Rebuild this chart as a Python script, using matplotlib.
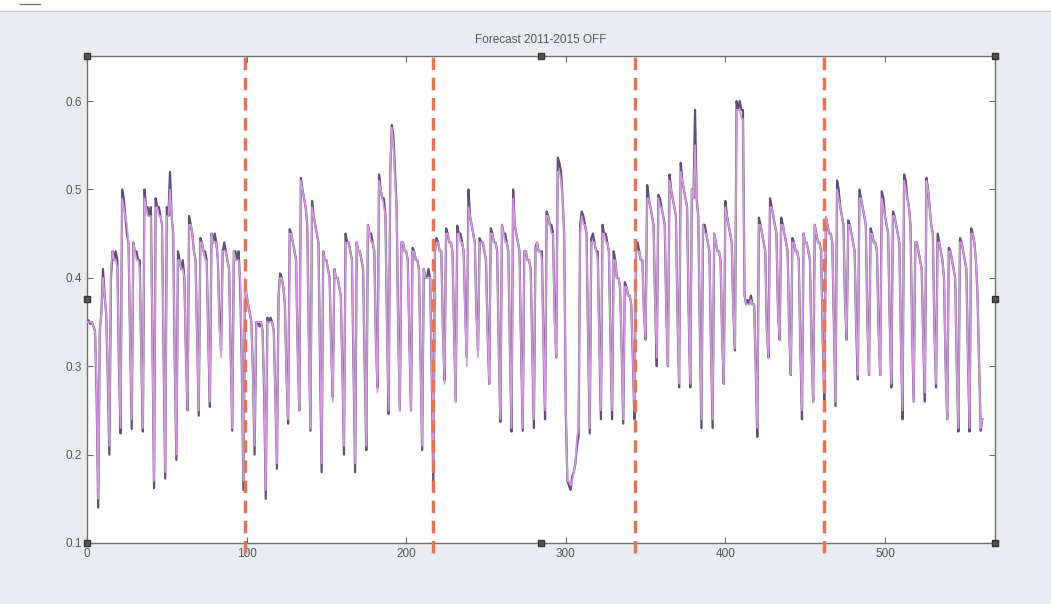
import matplotlib
matplotlib.use("Agg")
import matplotlib.pyplot as plt
import numpy as np
from matplotlib.lines import Line2D

plt.rcParams['font.family'] = ['Liberation Sans Narrow', 'Liberation Sans', 'DejaVu Sans']

title = "Forecast 2011-2015 OFF"

# daily values, one row per week: [Sun, Mon, Tue, Wed, Thu, Fri, Sat]
actual_weeks = [
    [0.35, 0.352, 0.348, 0.35, 0.345, 0.34, 0.27],
    [0.14, 0.34, 0.36, 0.41, 0.38, 0.36, 0.29],
    [0.20, 0.40, 0.43, 0.42, 0.43, 0.42, 0.30],
    [0.224, 0.50, 0.49, 0.47, 0.45, 0.44, 0.33],
    [0.229, 0.44, 0.43, 0.43, 0.42, 0.42, 0.31],
    [0.226, 0.50, 0.48, 0.48, 0.47, 0.48, 0.33],
    [0.162, 0.49, 0.48, 0.48, 0.47, 0.46, 0.31],
    [0.173, 0.48, 0.47, 0.52, 0.47, 0.45, 0.30],
    [0.194, 0.43, 0.42, 0.41, 0.42, 0.40, 0.31],
    [0.25, 0.47, 0.46, 0.45, 0.43, 0.42, 0.33],
    [0.244, 0.445, 0.44, 0.43, 0.43, 0.42, 0.33],
    [0.254, 0.45, 0.44, 0.45, 0.44, 0.42, 0.35],
    [0.318, 0.43, 0.44, 0.43, 0.42, 0.41, 0.32],
    [0.227, 0.43, 0.43, 0.42, 0.43, 0.39, 0.30],
    [0.16, 0.39, 0.38, 0.37, 0.36, 0.35, 0.29],
    [0.20, 0.35, 0.35, 0.345, 0.35, 0.34, 0.27],
    [0.15, 0.355, 0.35, 0.355, 0.35, 0.34, 0.27],
    [0.184, 0.38, 0.405, 0.40, 0.39, 0.37, 0.29],
    [0.235, 0.455, 0.45, 0.44, 0.43, 0.42, 0.32],
    [0.25, 0.513, 0.50, 0.49, 0.48, 0.46, 0.33],
    [0.227, 0.487, 0.47, 0.46, 0.45, 0.44, 0.31],
    [0.18, 0.43, 0.42, 0.42, 0.41, 0.40, 0.32],
    [0.265, 0.41, 0.40, 0.40, 0.39, 0.38, 0.30],
    [0.20, 0.45, 0.44, 0.44, 0.43, 0.42, 0.30],
    [0.18, 0.44, 0.43, 0.43, 0.42, 0.41, 0.30],
    [0.205, 0.46, 0.45, 0.45, 0.44, 0.43, 0.33],
    [0.276, 0.517, 0.50, 0.49, 0.49, 0.47, 0.34],
    [0.246, 0.52, 0.573, 0.56, 0.52, 0.48, 0.34],
    [0.25, 0.44, 0.44, 0.43, 0.43, 0.42, 0.33],
    [0.25, 0.434, 0.43, 0.42, 0.42, 0.41, 0.31],
    [0.205, 0.41, 0.40, 0.40, 0.41, 0.40, 0.29],
    [0.167, 0.43, 0.445, 0.44, 0.43, 0.43, 0.34],
    [0.284, 0.456, 0.45, 0.44, 0.44, 0.43, 0.34],
    [0.26, 0.459, 0.45, 0.45, 0.44, 0.43, 0.36],
    [0.31, 0.50, 0.47, 0.46, 0.45, 0.44, 0.36],
    [0.318, 0.445, 0.44, 0.44, 0.43, 0.42, 0.34],
    [0.28, 0.456, 0.45, 0.44, 0.44, 0.43, 0.32],
    [0.237, 0.46, 0.45, 0.45, 0.44, 0.43, 0.32],
    [0.226, 0.50, 0.46, 0.45, 0.44, 0.43, 0.32],
    [0.227, 0.43, 0.43, 0.42, 0.42, 0.41, 0.32],
    [0.23, 0.435, 0.44, 0.43, 0.43, 0.43, 0.33],
    [0.24, 0.475, 0.47, 0.46, 0.46, 0.45, 0.36],
    [0.31, 0.536, 0.53, 0.52, 0.49, 0.45, 0.25],
    [0.17, 0.165, 0.16, 0.175, 0.18, 0.19, 0.21],
    [0.22, 0.46, 0.475, 0.47, 0.46, 0.45, 0.33],
    [0.224, 0.445, 0.45, 0.44, 0.43, 0.43, 0.33],
    [0.24, 0.46, 0.45, 0.45, 0.44, 0.43, 0.33],
    [0.24, 0.43, 0.42, 0.40, 0.40, 0.39, 0.32],
    [0.235, 0.395, 0.39, 0.38, 0.38, 0.37, 0.31],
    [0.24, 0.43, 0.44, 0.43, 0.42, 0.42, 0.36],
    [0.33, 0.505, 0.49, 0.48, 0.47, 0.46, 0.37],
    [0.30, 0.494, 0.49, 0.48, 0.47, 0.46, 0.36],
    [0.30, 0.517, 0.50, 0.49, 0.48, 0.47, 0.36],
    [0.276, 0.53, 0.51, 0.50, 0.49, 0.48, 0.36],
    [0.276, 0.50, 0.49, 0.59, 0.49, 0.47, 0.34],
    [0.23, 0.46, 0.46, 0.45, 0.44, 0.43, 0.32],
    [0.23, 0.45, 0.44, 0.43, 0.43, 0.42, 0.33],
    [0.28, 0.487, 0.47, 0.46, 0.45, 0.44, 0.36],
    [0.318, 0.60, 0.59, 0.60, 0.59, 0.59, 0.38],
    [0.37, 0.375, 0.37, 0.38, 0.37, 0.37, 0.30],
    [0.22, 0.468, 0.46, 0.45, 0.44, 0.43, 0.34],
    [0.31, 0.49, 0.48, 0.47, 0.46, 0.45, 0.36],
    [0.33, 0.468, 0.46, 0.45, 0.44, 0.43, 0.34],
    [0.29, 0.445, 0.44, 0.43, 0.43, 0.42, 0.32],
    [0.24, 0.45, 0.44, 0.44, 0.43, 0.42, 0.32],
    [0.26, 0.46, 0.45, 0.44, 0.44, 0.43, 0.33],
    [0.26, 0.468, 0.46, 0.45, 0.45, 0.44, 0.35],
    [0.255, 0.51, 0.50, 0.48, 0.47, 0.46, 0.37],
    [0.33, 0.465, 0.46, 0.45, 0.44, 0.43, 0.34],
    [0.285, 0.50, 0.49, 0.48, 0.47, 0.46, 0.35],
    [0.29, 0.456, 0.45, 0.44, 0.44, 0.43, 0.34],
    [0.29, 0.498, 0.49, 0.47, 0.46, 0.45, 0.35],
    [0.276, 0.475, 0.47, 0.46, 0.45, 0.44, 0.33],
    [0.24, 0.517, 0.51, 0.49, 0.48, 0.46, 0.34],
    [0.26, 0.44, 0.44, 0.43, 0.42, 0.41, 0.33],
    [0.26, 0.513, 0.50, 0.48, 0.46, 0.45, 0.34],
    [0.276, 0.45, 0.44, 0.43, 0.42, 0.40, 0.30],
    [0.24, 0.434, 0.43, 0.42, 0.41, 0.40, 0.30],
    [0.226, 0.445, 0.44, 0.43, 0.42, 0.41, 0.31],
    [0.226, 0.456, 0.45, 0.44, 0.42, 0.38, 0.30],
    [0.227, 0.24],
]

forecast_weeks = [
    [0.35, 0.35, 0.35, 0.35, 0.345, 0.34, 0.28],
    [0.15, 0.34, 0.36, 0.40, 0.38, 0.36, 0.30],
    [0.21, 0.41, 0.43, 0.42, 0.42, 0.41, 0.31],
    [0.23, 0.49, 0.48, 0.47, 0.46, 0.44, 0.33],
    [0.24, 0.44, 0.43, 0.42, 0.42, 0.41, 0.31],
    [0.23, 0.49, 0.48, 0.47, 0.47, 0.47, 0.33],
    [0.17, 0.48, 0.48, 0.47, 0.47, 0.46, 0.32],
    [0.18, 0.47, 0.47, 0.50, 0.47, 0.45, 0.31],
    [0.20, 0.42, 0.42, 0.41, 0.41, 0.40, 0.31],
    [0.25, 0.46, 0.46, 0.45, 0.43, 0.42, 0.33],
    [0.25, 0.44, 0.44, 0.43, 0.42, 0.42, 0.33],
    [0.26, 0.45, 0.44, 0.44, 0.44, 0.42, 0.34],
    [0.31, 0.43, 0.43, 0.43, 0.42, 0.41, 0.32],
    [0.23, 0.43, 0.42, 0.42, 0.42, 0.40, 0.31],
    [0.17, 0.40, 0.38, 0.37, 0.36, 0.35, 0.29],
    [0.21, 0.35, 0.35, 0.35, 0.35, 0.34, 0.28],
    [0.16, 0.35, 0.35, 0.35, 0.35, 0.34, 0.27],
    [0.19, 0.38, 0.40, 0.40, 0.39, 0.37, 0.29],
    [0.24, 0.45, 0.45, 0.44, 0.43, 0.42, 0.32],
    [0.25, 0.51, 0.50, 0.49, 0.48, 0.46, 0.33],
    [0.23, 0.48, 0.47, 0.46, 0.45, 0.44, 0.32],
    [0.19, 0.43, 0.42, 0.42, 0.41, 0.40, 0.32],
    [0.26, 0.41, 0.40, 0.40, 0.39, 0.38, 0.30],
    [0.21, 0.44, 0.44, 0.44, 0.43, 0.42, 0.31],
    [0.19, 0.44, 0.43, 0.43, 0.42, 0.41, 0.31],
    [0.21, 0.46, 0.45, 0.44, 0.44, 0.43, 0.33],
    [0.27, 0.51, 0.50, 0.49, 0.48, 0.47, 0.34],
    [0.25, 0.52, 0.57, 0.55, 0.51, 0.48, 0.34],
    [0.25, 0.44, 0.44, 0.43, 0.43, 0.42, 0.33],
    [0.25, 0.43, 0.43, 0.42, 0.42, 0.41, 0.31],
    [0.21, 0.41, 0.40, 0.40, 0.40, 0.40, 0.30],
    [0.18, 0.43, 0.44, 0.44, 0.43, 0.43, 0.34],
    [0.28, 0.45, 0.45, 0.44, 0.44, 0.43, 0.34],
    [0.26, 0.45, 0.45, 0.44, 0.44, 0.43, 0.35],
    [0.30, 0.48, 0.47, 0.46, 0.45, 0.44, 0.36],
    [0.31, 0.44, 0.44, 0.44, 0.43, 0.42, 0.34],
    [0.28, 0.45, 0.45, 0.44, 0.44, 0.43, 0.32],
    [0.24, 0.46, 0.45, 0.44, 0.44, 0.43, 0.32],
    [0.23, 0.49, 0.46, 0.45, 0.44, 0.43, 0.32],
    [0.23, 0.43, 0.43, 0.42, 0.42, 0.41, 0.32],
    [0.24, 0.43, 0.44, 0.43, 0.43, 0.42, 0.33],
    [0.25, 0.47, 0.47, 0.46, 0.45, 0.45, 0.35],
    [0.31, 0.52, 0.52, 0.51, 0.49, 0.45, 0.26],
    [0.17, 0.17, 0.165, 0.17, 0.18, 0.19, 0.22],
    [0.23, 0.45, 0.47, 0.46, 0.46, 0.45, 0.33],
    [0.23, 0.44, 0.44, 0.44, 0.43, 0.42, 0.33],
    [0.25, 0.45, 0.45, 0.44, 0.44, 0.43, 0.33],
    [0.25, 0.42, 0.42, 0.40, 0.40, 0.39, 0.32],
    [0.24, 0.39, 0.39, 0.38, 0.38, 0.37, 0.31],
    [0.25, 0.43, 0.43, 0.43, 0.42, 0.42, 0.36],
    [0.33, 0.49, 0.49, 0.48, 0.47, 0.46, 0.37],
    [0.31, 0.49, 0.48, 0.48, 0.47, 0.46, 0.36],
    [0.30, 0.51, 0.50, 0.49, 0.48, 0.47, 0.36],
    [0.28, 0.52, 0.51, 0.50, 0.49, 0.48, 0.36],
    [0.28, 0.50, 0.49, 0.55, 0.49, 0.47, 0.34],
    [0.24, 0.46, 0.45, 0.45, 0.44, 0.43, 0.32],
    [0.24, 0.45, 0.44, 0.43, 0.43, 0.42, 0.33],
    [0.28, 0.48, 0.47, 0.46, 0.45, 0.44, 0.36],
    [0.32, 0.59, 0.59, 0.59, 0.58, 0.58, 0.38],
    [0.37, 0.37, 0.37, 0.375, 0.37, 0.37, 0.30],
    [0.23, 0.46, 0.46, 0.45, 0.44, 0.43, 0.34],
    [0.31, 0.48, 0.48, 0.47, 0.46, 0.45, 0.36],
    [0.33, 0.46, 0.46, 0.45, 0.44, 0.43, 0.34],
    [0.29, 0.44, 0.44, 0.43, 0.43, 0.42, 0.32],
    [0.25, 0.45, 0.44, 0.44, 0.43, 0.42, 0.32],
    [0.26, 0.46, 0.45, 0.44, 0.44, 0.43, 0.33],
    [0.27, 0.47, 0.46, 0.45, 0.45, 0.44, 0.35],
    [0.26, 0.50, 0.49, 0.48, 0.47, 0.46, 0.37],
    [0.33, 0.46, 0.46, 0.45, 0.44, 0.43, 0.34],
    [0.29, 0.49, 0.49, 0.48, 0.47, 0.46, 0.35],
    [0.29, 0.45, 0.45, 0.44, 0.44, 0.43, 0.34],
    [0.29, 0.49, 0.48, 0.47, 0.46, 0.45, 0.35],
    [0.28, 0.47, 0.47, 0.46, 0.45, 0.44, 0.33],
    [0.25, 0.51, 0.50, 0.49, 0.48, 0.46, 0.34],
    [0.26, 0.44, 0.44, 0.43, 0.42, 0.41, 0.33],
    [0.27, 0.51, 0.50, 0.48, 0.46, 0.45, 0.34],
    [0.28, 0.44, 0.44, 0.43, 0.42, 0.40, 0.30],
    [0.24, 0.43, 0.43, 0.42, 0.41, 0.40, 0.30],
    [0.23, 0.44, 0.44, 0.43, 0.42, 0.41, 0.31],
    [0.23, 0.45, 0.45, 0.44, 0.42, 0.38, 0.30],
    [0.23, 0.24],
]

split_days = [99, 216.5, 343.5, 461.5]
xticks = [0, 100, 200, 300, 400, 500]
yticks = [0.1, 0.2, 0.3, 0.4, 0.5, 0.6]

actual = np.concatenate([np.array(w) for w in actual_weeks])
forecast = np.concatenate([np.array(w) for w in forecast_weeks])
days = np.arange(len(actual))

bg = '#e9ecf1'
fig = plt.figure(figsize=(10.51, 6.04), dpi=100, facecolor=bg)
ax = fig.add_axes([0.0828, 0.101, 0.864, 0.8063])
ax.set_facecolor('white')

ax.plot(days, actual, color='#5f5075', lw=1.6, zorder=2)
ax.plot(days, forecast, color='#d49ade', lw=1.2, zorder=3)

for d in split_days:
    ax.axvline(d, ymin=-0.02, ymax=1, color='#e2765a', lw=2.5,
               dashes=(3.6, 2.2), clip_on=False, zorder=4)

ax.set_xlim(0, 569)
ax.set_ylim(0.1, 0.651)
ax.set_xticks(xticks)
ax.set_yticks(yticks)
ax.set_yticklabels([str(t) for t in yticks])
ax.tick_params(direction='in', length=4, width=0.8, colors='#666666',
               labelcolor='#555555', labelsize=8.5, top=True, right=True)
for s in ax.spines.values():
    s.set_color('#707070')
    s.set_linewidth(1.0)
ax.set_title(title, fontsize=8.5, color='#555555', pad=9)

# MATLAB edit-mode selection handles
hx = [0, 0.5, 1, 0, 1, 0, 0.5, 1]
hy = [1, 1, 1, 0.5, 0.5, 0, 0, 0]
ax.plot(hx, hy, 's', ms=4.5, color='#555555', mec='#333333',
        transform=ax.transAxes, clip_on=False, zorder=5)

# window frame at top of the scan
fig.patches.append(plt.Rectangle((0, 0.982), 1, 0.018, transform=fig.transFigure,
                                 color='white', zorder=0))
fig.lines.append(Line2D([0, 1], [0.982, 0.982], transform=fig.transFigure,
                        color='#c8c8c8', lw=1))
fig.lines.append(Line2D([0.019, 0.038], [0.994, 0.994], transform=fig.transFigure,
                        color='#777777', lw=1))

fig.savefig('out.png', dpi=100, facecolor=bg)
